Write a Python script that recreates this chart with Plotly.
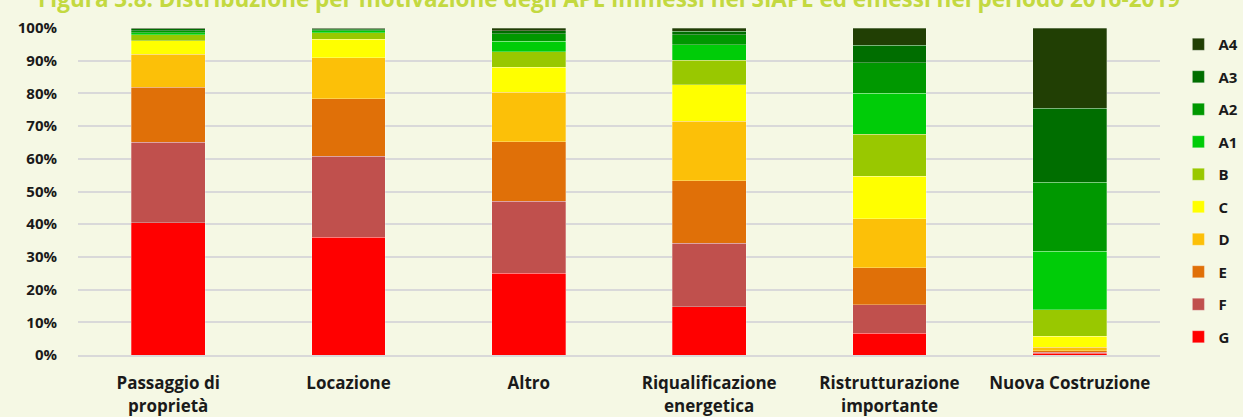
import plotly.graph_objects as go

categories = ["Passaggio di<br>proprietà", "Locazione", "Altro",
              "Riqualificazione<br>energetica", "Ristrutturazione<br>importante",
              "Nuova Costruzione"]

classes = ["G", "F", "E", "D", "C", "B", "A1", "A2", "A3", "A4"]

G  = [40.5, 36.0, 25.0, 14.8, 6.6, 0.5]
F  = [24.5, 24.8, 22.0, 19.4, 8.7, 0.3]
E  = [16.9, 17.6, 18.2, 19.1, 11.4, 0.5]
D  = [10.1, 12.5, 15.1, 18.2, 14.9, 1.0]
C  = [4.1, 5.7, 7.7, 11.2, 13.1, 3.5]
B  = [1.8, 1.9, 4.7, 7.4, 12.8, 8.0]
A1 = [0.7, 0.6, 3.3, 4.8, 12.6, 18.0]
A2 = [0.6, 0.4, 2.2, 3.0, 9.3, 21.0]
A3 = [0.5, 0.3, 1.0, 1.1, 5.4, 22.6]
A4 = [0.3, 0.2, 0.8, 1.0, 5.2, 24.6]

series = [G, F, E, D, C, B, A1, A2, A3, A4]
colors = ["#FF0000", "#C0504D", "#E07008", "#FCC008", "#FFFF00",
          "#99C800", "#00CC08", "#009800", "#006E00", "#213F04"]

title_text = "Figura 3.8: Distribuzione per motivazione degli APE immessi nel SIAPE ed emessi nel periodo 2016-2019"

BG = "#F5F8E4"

fig = go.Figure()
n = len(classes)
for i, (name, vals, col) in enumerate(zip(classes, series, colors)):
    fig.add_trace(go.Bar(
        x=categories, y=vals, name=name, legendgroup=name, legendrank=100 + (n - i),
        marker=dict(color=col, line=dict(color="rgba(255,255,255,0.35)", width=0.8)),
        width=0.41,
    ))

fig.update_layout(
    barmode="stack",
    width=1243, height=417,
    paper_bgcolor=BG, plot_bgcolor=BG,
    margin=dict(l=78, r=83, t=28, b=62, autoexpand=False),
    font=dict(family="Open Sans", color="#1A1A1A"),
    legend=dict(x=1.017, xanchor="left", y=1.0, yanchor="top",
                traceorder="grouped", tracegroupgap=10, maxheight=420,
                font=dict(family="Open Sans", size=15, weight="bold", color="#1A1A1A"),
                bgcolor="rgba(0,0,0,0)", itemwidth=30),
    showlegend=True,
    bargap=0.59,
)

fig.add_annotation(text=title_text, xref="paper", yref="paper",
                   x=(609 - 78) / 1082, y=1 + (28 + 2) / 327,
                   xanchor="center", yanchor="middle", showarrow=False,
                   font=dict(family="Open Sans", size=22.5, color="#C3D940", weight="bold"))

fig.update_yaxes(range=[0, 100], dtick=10, ticksuffix="%", showgrid=True,
                 gridcolor="#D9D9D9", gridwidth=2, zeroline=False,
                 showline=False, automargin=False,
                 tickfont=dict(family="Open Sans", size=15, weight="bold", color="#1A1A1A"),
                 ticklabelstandoff=20)
fig.update_xaxes(showgrid=False, showline=True, linecolor="#D9D9D9", linewidth=2,
                 automargin=False,
                 tickfont=dict(family="Open Sans", size=17, weight="bold", color="#1A1A1A"),
                 ticklabelstandoff=12)

fig.write_html("out.html", config={"displayModeBar": False},
               post_script="document.body.style.margin='0';document.body.style.background='%s';" % BG)
